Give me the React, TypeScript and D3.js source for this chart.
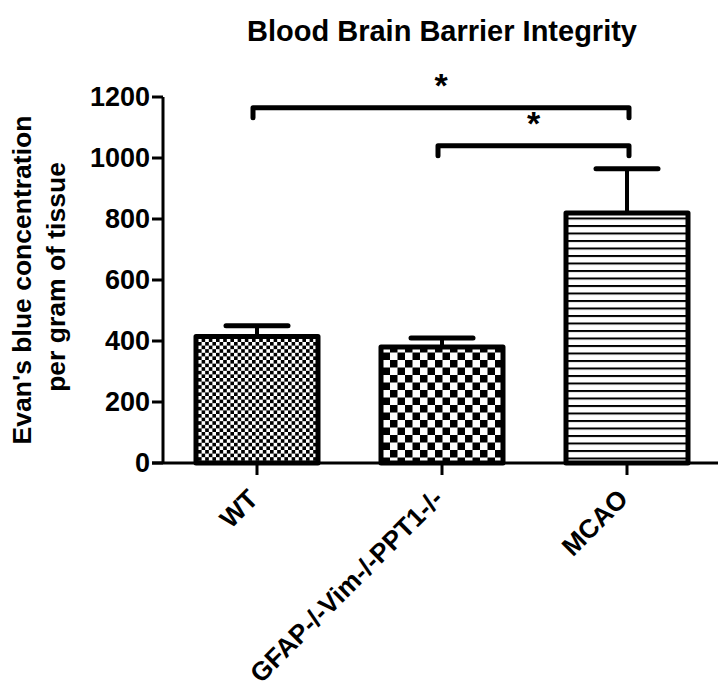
import React from "react";
import * as d3 from "d3";

const categories = ["WT", "GFAP-/-Vim-/-PPT1-/-", "MCAO"];
const means = [415, 380, 820];
const errors = [35, 30, 145];
const yTicks = [0, 200, 400, 600, 800, 1000, 1200];
const patterns = ["fineCheck", "coarseCheck", "hLines"];
const brackets = [
  { from: "WT", to: "MCAO", level: 1165, label: "*" },
  { from: "GFAP-/-Vim-/-PPT1-/-", to: "MCAO", level: 1040, label: "*" },
];

const W = 720;
const H = 693;
const FONT = "'Liberation Sans', Arial, Helvetica, sans-serif";

export default function App() {
  const x = d3.scalePoint<string>().domain(categories).range([257, 627]);
  const y = d3.scaleLinear().domain([0, 1200]).range([463, 97]);
  const barHalf = 61;
  const capHalf = 31;

  return (
    <svg width={W} height={H} style={{ position: "absolute", left: 0, top: 0, background: "#fff" }}>
      <defs>
        <pattern id="fineCheck" width={7.2} height={7.2} patternUnits="userSpaceOnUse">
          <rect width={7.2} height={7.2} fill="#fff" />
          <rect width={3.6} height={3.6} fill="#000" />
          <rect x={3.6} y={3.6} width={3.6} height={3.6} fill="#000" />
        </pattern>
        <pattern id="coarseCheck" width={15} height={15} patternUnits="userSpaceOnUse">
          <rect width={15} height={15} fill="#fff" />
          <rect width={7.5} height={7.5} fill="#000" />
          <rect x={7.5} y={7.5} width={7.5} height={7.5} fill="#000" />
        </pattern>
        <pattern id="hLines" width={10} height={7.5} patternUnits="userSpaceOnUse">
          <rect width={10} height={7.5} fill="#fff" />
          <rect y={0} width={10} height={2} fill="#000" />
        </pattern>
      </defs>

      <text x={442} y={41} textAnchor="middle" fontFamily={FONT} fontWeight="bold" fontSize={29}>
        Blood Brain Barrier Integrity
      </text>

      {/* y axis title */}
      <g transform="translate(22,280) rotate(-90)">
        <text x={0} y={0} textAnchor="middle" dominantBaseline="central" fontFamily={FONT} fontWeight="bold" fontSize={26.5}>
          Evan's blue concentration
        </text>
      </g>
      <g transform="translate(56,277) rotate(-90)">
        <text x={0} y={0} textAnchor="middle" dominantBaseline="central" fontFamily={FONT} fontWeight="bold" fontSize={26.5}>
          per gram of tissue
        </text>
      </g>

      {/* bars */}
      {categories.map((c, i) => {
        const cx = x(c)!;
        const top = y(means[i]);
        const errTop = y(means[i] + errors[i]);
        return (
          <g key={c}>
            <line x1={cx} x2={cx} y1={top} y2={errTop} stroke="#000" strokeWidth={4} />
            <line x1={cx - capHalf} x2={cx + capHalf} y1={errTop} y2={errTop} stroke="#000" strokeWidth={5} strokeLinecap="round" />
            <rect
              x={cx - barHalf}
              y={top}
              width={barHalf * 2}
              height={y(0) - top}
              fill={`url(#${patterns[i]})`}
              stroke="#000"
              strokeWidth={5}
              strokeLinejoin="round"
            />
          </g>
        );
      })}

      {/* y axis */}
      <line x1={163} x2={163} y1={y(1200)} y2={y(0)} stroke="#000" strokeWidth={3} />
      {yTicks.map((t) => (
        <g key={t}>
          <line x1={152} x2={163} y1={y(t)} y2={y(t)} stroke="#000" strokeWidth={3} />
          <text x={150} y={y(t)} textAnchor="end" dominantBaseline="central" fontFamily={FONT} fontWeight="bold" fontSize={27}>
            {t}
          </text>
        </g>
      ))}

      {/* x axis */}
      <line x1={152} x2={718} y1={y(0)} y2={y(0)} stroke="#000" strokeWidth={3} />
      {categories.map((c) => {
        const cx = x(c)!;
        return (
          <g key={c}>
            <line x1={cx} x2={cx} y1={y(0)} y2={y(0) + 12} stroke="#000" strokeWidth={3} />
            <text
              transform={`translate(${cx - 11},${y(0) + 24}) rotate(-45)`}
              textAnchor="end"
              dominantBaseline="hanging"
              fontFamily={FONT}
              fontWeight="bold"
              fontSize={26.3}
            >
              {c}
            </text>
          </g>
        );
      })}

      {/* significance brackets */}
      {brackets.map((b, i) => {
        const x1 = x(b.from)! - 4;
        const x2 = x(b.to)! + 2;
        const by = y(b.level);
        const drop = 10;
        return (
          <g key={i}>
            <path
              d={`M${x1},${by + drop} L${x1},${by} L${x2},${by} L${x2},${by + drop}`}
              fill="none"
              stroke="#000"
              strokeWidth={5}
              strokeLinecap="round"
              strokeLinejoin="round"
            />
            <text x={(x1 + x2) / 2} y={by - 11} textAnchor="middle" fontFamily={FONT} fontWeight="bold" fontSize={34}>
              {b.label}
            </text>
          </g>
        );
      })}
    </svg>
  );
}
